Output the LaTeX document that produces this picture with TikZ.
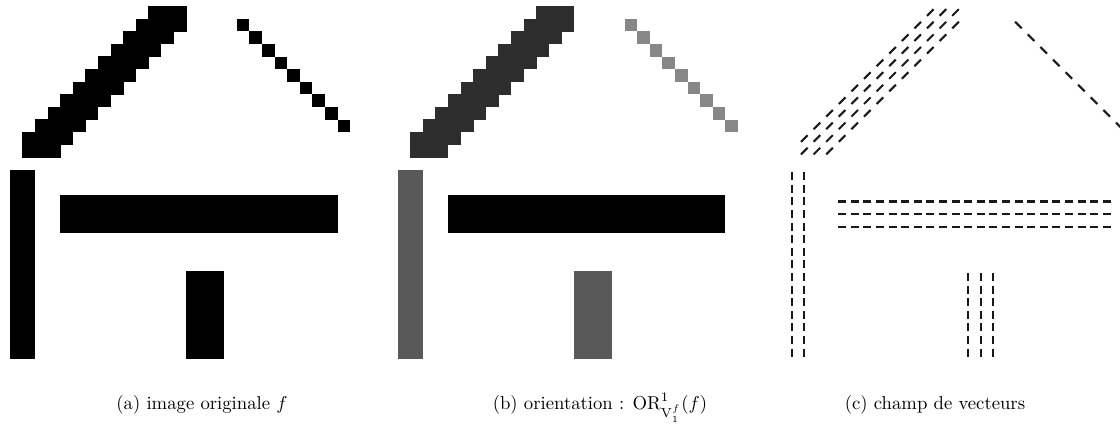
\documentclass[tikz,border=0pt]{standalone}
\begin{document}
\begin{tikzpicture}[x=0.535pt,y=-0.535pt,
  vec/.style={line width=1.1pt,black!90},
  captxt/.style={anchor=base,inner sep=0pt,font=\fontsize{10}{12}\selectfont}]
\useasboundingbox (0,0) rectangle (1120,434);
\def\cs{12.6}
\def\dh{3.3}
% panel (a) and (b): pixel images
\foreach \px/\cleft/\cright/\cwall/\cbar in {10/black/black/black/black, 397.7/black!82/black!47/black!65/black}{
  \begin{scope}[shift={(\px,170)}]
    % left roof, cell by cell
    \foreach \rr/\ca/\cb in {-13/11/13,-12/10/13,-11/9/12,-10/8/11,-9/7/10,-8/6/9,-7/5/8,-6/4/7,-5/3/6,-4/2/5,-3/1/4,-2/1/3}{
      \foreach \cc in {\ca,...,\cb}{
        \fill[\cleft] ({\cc*\cs-0.2},{\rr*\cs-0.2}) rectangle ++({\cs+0.4},{\cs+0.4});
      }
    }
    % right roof
    \foreach \k in {0,...,8}{
      \fill[\cright] ({(18+\k)*\cs},{(-12+\k)*\cs}) rectangle ++(\cs,\cs);
    }
    % wall
    \fill[\cwall] (0,0) rectangle ({2*\cs},{15*\cs});
    % bar
    \fill[\cbar] ({4*\cs},{2*\cs}) rectangle ({26*\cs},{5*\cs});
    % door
    \fill[\cwall] ({14*\cs},{8*\cs}) rectangle ({17*\cs},{15*\cs});
  \end{scope}
}
% panel (c): vector field
\begin{scope}[shift={(785.4,170)}]
  \clip (-10,-170) rectangle (334.6,264);
  \foreach \rr/\ca/\cb in {-13/11/13,-12/10/13,-11/9/12,-10/8/11,-9/7/10,-8/6/9,-7/5/8,-6/4/7,-5/3/6,-4/2/5,-3/1/4,-2/1/3}{
    \foreach \cc in {\ca,...,\cb}{
      \draw[vec] ({(\cc+0.5)*\cs-\dh},{(\rr+0.5)*\cs+\dh}) -- ++({2*\dh},{-2*\dh});
    }
  }
  \foreach \k in {0,...,8}{
    \draw[vec] ({(18+\k+0.5)*\cs-\dh},{(-12+\k+0.5)*\cs-\dh}) -- ++({2*\dh},{2*\dh});
  }
  \foreach \cc in {0,1}{\foreach \rr in {0,...,14}{
    \draw[vec] ({(\cc+0.5)*\cs},{(\rr+0.5)*\cs-4}) -- ++(0,8);
  }}
  \foreach \cc in {4,...,25}{\foreach \rr in {2,3,4}{
    \draw[vec] ({(\cc+0.5)*\cs-4},{(\rr+0.5)*\cs}) -- ++(8,0);
  }}
  \foreach \cc in {14,15,16}{\foreach \rr in {8,...,14}{
    \draw[vec] ({(\cc+0.5)*\cs},{(\rr+0.5)*\cs-4}) -- ++(0,8);
  }}
\end{scope}
% captions
\node[captxt] (capa) at (202,410) {(a) image originale $f$};
\node[captxt] (capb) at (600,410) {(b) orientation : $\mathrm{OR}^{1}_{\mathrm{V}_1^f}(f)$};
\node[captxt] (capc) at (935,410) {(c) champ de vecteurs};
\end{tikzpicture}
\end{document}
